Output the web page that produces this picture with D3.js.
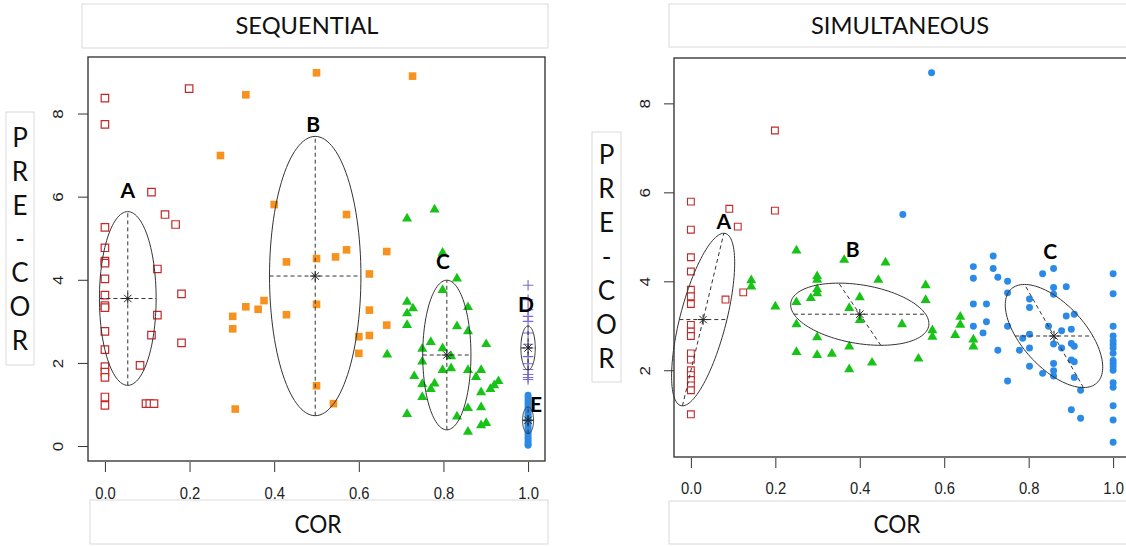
<!DOCTYPE html>
<html lang="en">
<head>
<meta charset="UTF-8">
<title>PRE-COR vs COR - Sequential / Simultaneous</title>
<script src="https://d3js.org/d3.v7.min.js"></script>
<style>
  body { margin: 0; background: #fff; }
  svg { display: block; }
  .label-box { fill: #fff; stroke: #d9d9d9; stroke-width: 1px; }
  .overlay-text { font-family: Lato, 'Open Sans', sans-serif; fill: #111; }
  .tick text { font-family: 'Liberation Sans', Arial, sans-serif; font-size: 17px; fill: #222; }
  .tick line { stroke: #333; stroke-width: 1px; }
  .frame { fill: none; stroke: #3a3a3a; stroke-width: 1.4px; }
  .ell { fill: none; stroke: #333; stroke-width: 1px; }
  .ell-axis { stroke: #333; stroke-width: 1px; stroke-dasharray: 4 3; }
  .ell-label { font-family: Lato, 'Open Sans', sans-serif; font-weight: 700; font-size: 21px; fill: #000; }
</style>
</head>
<body>
<div id="chart"></div>
<script>
// ---- data ----
const xTicks = [0, 0.2, 0.4, 0.6, 0.8, 1.0];
const seqYTicks = [0, 2, 4, 6, 8];
const simYTicks = [2, 4, 6, 8];

// SEQUENTIAL panel, [COR, PRE-COR]
const seqA = [[0,8.37],[0,7.74],[0.199,8.60],[0.110,6.11],[0.142,5.57],[0.167,5.33],[0,5.26],[0,4.77],
  [0,4.45],[0,4.40],[0.124,4.26],[0,4.02],[0.181,3.66],[0,3.63],[0,3.38],[0,3.33],[0.124,3.15],[0,2.76],
  [0.110,2.67],[0.181,2.48],[0,2.32],[0.083,1.94],[0,1.91],[0,1.78],[0,1.65],[0,1.18],[0,0.98],
  [0.097,1.02],[0.106,1.02],[0.116,1.02]];
const seqB = [[0.500,8.98],[0.333,8.45],[0.273,6.99],[0.400,5.81],[0.571,5.57],[0.571,4.72],[0.545,4.55],
  [0.500,4.51],[0.429,4.43],[0.376,3.50],[0.333,3.35],[0.362,3.29],[0.302,3.12],[0.429,3.16],[0.500,3.41],
  [0.302,2.82],[0.500,1.45],[0.540,1.02],[0.308,0.89],[0.727,8.90],[0.666,4.68],[0.625,4.14],[0.625,3.27],
  [0.666,2.91],[0.600,2.63],[0.625,2.66],[0.600,2.23]];
const seqC = [[0.779,5.69],[0.714,5.47],[0.798,4.65],[0.832,4.03],[0.798,3.75],[0.714,3.47],[0.728,3.31],
  [0.714,3.19],[0.858,3.34],[0.714,2.91],[0.832,2.88],[0.858,2.76],[0.770,2.50],[0.901,2.45],[0.667,2.20],
  [0.750,2.34],[0.798,2.35],[0.818,2.16],[0.750,2.03],[0.798,1.83],[0.818,1.87],[0.858,1.83],[0.889,1.83],
  [0.877,1.66],[0.731,1.68],[0.750,1.49],[0.779,1.50],[0.770,1.37],[0.750,1.18],[0.889,1.29],[0.911,1.37],
  [0.920,1.46],[0.930,1.56],[0.858,0.91],[0.889,0.93],[0.714,0.77],[0.832,0.71],[0.889,0.50],[0.901,0.55],
  [0.858,0.34]];
const seqD = [[1,3.87],[1,3.52],[1,3.28],[1,3.12],[1,3.00],[1,2.72],[1,2.45],[1,2.15],[1,1.98],[1,1.84],
  [1,1.72],[1,1.65],[1,1.60]];
const seqE = [[1,1.22],[1,1.16],[1,1.09],[1,1.03],[1,0.97],[1,0.92],[1,0.85],[1,0.79],[1,0.74],[1,0.68],
  [1,0.62],[1,0.57],[1,0.51],[1,0.45],[1,0.40],[1,0.33],[1,0.28],[1,0.21],[1,0.16],[1,0.10],[1,0.05],[1,0.02]];

// SIMULTANEOUS panel
const simA = [[0.199,7.39],[0,5.79],[0.091,5.63],[0.111,5.23],[0,5.16],[0.199,5.59],[0,4.54],[0,4.22],
  [0,3.81],[0,3.66],[0,3.49],[0.124,3.75],[0.082,3.59],[0,3.02],[0,2.87],[0,2.77],[0,2.38],[0,2.24],
  [0,2.00],[0,1.89],[0,1.78],[0,1.66],[0,1.55],[0,1.01]];
const simB = [[0.250,4.69],[0.363,4.48],[0.461,4.42],[0.143,4.02],[0.143,3.88],[0.299,4.11],[0.299,4.03],
  [0.444,4.03],[0.299,3.82],[0.299,3.73],[0.284,3.62],[0.250,3.53],[0.400,3.64],[0.375,3.40],[0.400,3.13],
  [0.200,3.43],[0.500,3.03],[0.250,3.03],[0.299,2.74],[0.375,2.53],[0.250,2.41],[0.299,2.34],[0.334,2.37],
  [0.429,2.17],[0.375,2.02],[0.556,3.91],[0.556,3.58],[0.572,2.90],[0.572,2.75],[0.539,2.26],[0.638,3.20],
  [0.638,3.02],[0.626,2.79],[0.669,2.69],[0.669,2.53]];
const simC = [[0.570,8.69],[0.502,5.50],[0.716,4.57],[0.669,4.33],[0.669,4.07],[0.716,4.29],[0.727,4.09],
  [0.750,4.00],[0.750,3.74],[0.669,3.49],[0.700,3.49],[0.700,3.09],[0.669,2.99],[0.692,2.84],[0.750,2.99],
  [0.727,2.45],[0.750,1.76],[0.833,4.17],[0.859,4.29],[0.859,3.86],[0.859,3.71],[0.889,3.88],[0.802,3.60],
  [0.802,3.41],[0.889,3.22],[0.908,3.26],[0.847,2.99],[0.878,2.89],[0.901,2.92],[0.802,2.81],[0.786,2.72],
  [0.859,2.59],[0.878,2.50],[0.901,2.60],[0.908,2.54],[0.778,2.45],[0.802,2.50],[0.901,2.23],[0.908,2.19],
  [0.802,2.09],[0.859,2.15],[0.859,1.99],[0.859,1.87],[0.833,1.93],[0.908,1.84],[0.923,1.55],[0.901,1.11],
  [0.923,0.92],[1,4.17],[1,3.72],[1,2.99],[1,2.77],[1,2.66],[1,2.58],[1,2.50],[1,2.38],[1,2.22],[1,2.15],
  [1,2.08],[1,2.00],[1,1.72],[1,1.62],[1,1.20],[1,0.88],[1,0.38]];

// class ellipses: centre (cx, cy), conjugate semi-axes u and v, label position (lx, ly)
const seqEllipses = [
  { name: "A", cx: 0.054, cy: 3.55, ux: 0, uy: 2.09, vx: 0.067, vy: 0, lx: 0.054, ly: 6.16 },
  { name: "B", cx: 0.497, cy: 4.09, ux: 0, uy: 3.36, vx: 0.108, vy: 0, lx: 0.492, ly: 7.74 },
  { name: "C", cx: 0.808, cy: 2.19, ux: 0, uy: 1.80, vx: 0.057, vy: 0, lx: 0.799, ly: 4.44 },
  { name: "D", cx: 1.0, cy: 2.36, ux: 0, uy: 0.53, vx: 0.017, vy: 0, lx: 0.995, ly: 3.40 },
  { name: "E", cx: 1.0, cy: 0.62, ux: 0, uy: 0.32, vx: 0.013, vy: 0, lx: 1.019, ly: 0.99 }
];
const simEllipses = [
  { name: "A", cx: 0.029, cy: 3.14, ux: 0.049, uy: 1.94, vx: 0.0564, vy: 0, lx: 0.078, ly: 5.35 },
  { name: "B", cx: 0.400, cy: 3.26, ux: -0.0498, uy: 0.699, vx: 0.156, vy: 0, lx: 0.383, ly: 4.71 },
  { name: "C", cx: 0.860, cy: 2.77, ux: -0.0697, uy: 1.159, vx: 0.092, vy: 0, lx: 0.851, ly: 4.67 }
];

// ---- marker styles ----
const asterisk = { draw(ctx, size) {
  const r = Math.sqrt(size) / 2, d = r * 0.7071;
  ctx.moveTo(-r, 0); ctx.lineTo(r, 0); ctx.moveTo(0, -r); ctx.lineTo(0, r);
  ctx.moveTo(-d, -d); ctx.lineTo(d, d); ctx.moveTo(-d, d); ctx.lineTo(d, -d);
} };
const plus = { draw(ctx, size) {
  const r = Math.sqrt(size) / 2;
  ctx.moveTo(-r, 0); ctx.lineTo(r, 0); ctx.moveTo(0, -r); ctx.lineTo(0, r);
} };

const styles = {
  openSquare: { type: d3.symbolSquare, size: 56, fill: "#fff", stroke: "#c62828", sw: 1.2 },
  openSquareSm: { type: d3.symbolSquare, size: 46, fill: "#fff", stroke: "#c62828", sw: 1.1 },
  orange: { type: d3.symbolSquare, size: 58, fill: "#f7921e", stroke: "none", sw: 0 },
  triangle: { type: d3.symbolTriangle, size: 44, fill: "#17c317", stroke: "none", sw: 0 },
  plus: { type: plus, size: 110, fill: "none", stroke: "#7768d6", sw: 1.1 },
  circle: { type: d3.symbolCircle, size: 38, fill: "#2b8ae6", stroke: "none", sw: 0 }
};

const W = 1126, H = 546;
const svg = d3.select("#chart").append("svg").attr("width", W).attr("height", H);

function labelBox(b) {
  svg.append("rect").attr("class", "label-box")
    .attr("x", b[0]).attr("y", b[1]).attr("width", b[2]).attr("height", b[3]);
}

function drawPanel(cfg) {
  const f = cfg.frame;
  const x = d3.scaleLinear().domain([-0.04, 1.04]).range([f.l, f.r]);
  const y = d3.scaleLinear().domain(cfg.yDomain).range([f.b, f.t]);

  // text boxes (title, x label, y label)
  labelBox(cfg.titleBox);
  svg.append("text").attr("class", "overlay-text")
    .attr("x", cfg.titleBox[0] + cfg.titleBox[2] / 2 + cfg.titleShift).attr("y", 26)
    .attr("dy", "0.35em").attr("text-anchor", "middle")
    .attr("font-size", 24).attr("textLength", cfg.titleWidth).attr("lengthAdjust", "spacingAndGlyphs")
    .text(cfg.title);

  labelBox(cfg.corBox);
  svg.append("text").attr("class", "overlay-text")
    .attr("x", cfg.corX).attr("y", 524).attr("dy", "0.35em").attr("text-anchor", "middle")
    .attr("font-size", 25).attr("textLength", 47).attr("lengthAdjust", "spacingAndGlyphs")
    .text("COR");

  labelBox(cfg.preBox);
  "PRE-COR".split("").forEach((ch, i) => {
    svg.append("text").attr("class", "overlay-text")
      .attr("x", cfg.preBox[0] + cfg.preBox[2] / 2)
      .attr("y", cfg.preStart + i * cfg.preStep)
      .attr("dy", "0.36em").attr("text-anchor", "middle").attr("font-size", 26)
      .text(ch);
  });

  // axes
  const gx = svg.append("g").attr("transform", `translate(0,${f.b + 1})`)
    .call(d3.axisBottom(x).tickValues(xTicks).tickFormat(d3.format(".1f")).tickSize(10));
  gx.select(".domain").remove();
  gx.selectAll(".tick text").attr("x", 0).attr("y", 0).attr("dy", "0.35em")
    .attr("transform", `translate(0,${cfg.xLabelOffset}) scale(0.87,1)`);

  const gy = svg.append("g").attr("transform", `translate(${f.l},0)`)
    .call(d3.axisLeft(y).tickValues(cfg.yTicks).tickFormat(d3.format("d")).tickSize(10));
  gy.select(".domain").remove();
  gy.selectAll(".tick text").attr("x", 0).attr("y", 0).attr("dy", "0.35em")
    .attr("text-anchor", "middle")
    .attr("transform", `translate(${-cfg.yLabelOffset},0) scale(0.87,1) rotate(-90)`);

  // frame
  svg.append("rect").attr("class", "frame")
    .attr("x", f.l).attr("y", f.t).attr("width", f.r - f.l).attr("height", f.b - f.t);

  // points
  const plot = svg.append("g");
  cfg.groups.forEach(g => {
    const s = styles[g.style];
    const sym = d3.symbol().type(s.type).size(s.size);
    plot.append("g").selectAll("path").data(g.data).join("path")
      .attr("transform", d => `translate(${x(d[0])},${y(d[1])})`)
      .attr("d", sym)
      .attr("fill", s.fill).attr("stroke", s.stroke).attr("stroke-width", s.sw);
  });

  // ellipses with dashed axes, centre star and class label
  const ts = d3.range(0, 361, 3).map(a => a * Math.PI / 180);
  cfg.ellipses.forEach(e => {
    const line = d3.line()
      .x(t => x(e.cx + e.ux * Math.cos(t) + e.vx * Math.sin(t)))
      .y(t => y(e.cy + e.uy * Math.cos(t) + e.vy * Math.sin(t)));
    plot.append("path").attr("class", "ell").attr("d", line(ts));
    [[e.ux, e.uy], [e.vx, e.vy]].forEach(([ax, ay]) => {
      plot.append("line").attr("class", "ell-axis")
        .attr("x1", x(e.cx - ax)).attr("y1", y(e.cy - ay))
        .attr("x2", x(e.cx + ax)).attr("y2", y(e.cy + ay));
    });
    plot.append("path")
      .attr("transform", `translate(${x(e.cx)},${y(e.cy)})`)
      .attr("d", d3.symbol().type(asterisk).size(110)())
      .attr("fill", "none").attr("stroke", "#222").attr("stroke-width", 1);
    plot.append("text").attr("class", "ell-label")
      .attr("x", x(e.lx)).attr("y", y(e.ly)).attr("dy", "0.36em").attr("text-anchor", "middle")
      .text(e.name);
  });
}

drawPanel({
  title: "SEQUENTIAL", titleBox: [82, 4, 466, 44], titleShift: -8, titleWidth: 143,
  corBox: [90, 500, 458, 44], corX: 318,
  preBox: [6, 112, 28, 253], preStart: 138, preStep: 33.7,
  frame: { l: 88, t: 57, r: 545, b: 461 }, yDomain: [-0.36, 9.36], yTicks: seqYTicks,
  xLabelOffset: 31, yLabelOffset: 30,
  groups: [
    { data: seqA, style: "openSquare" }, { data: seqB, style: "orange" },
    { data: seqC, style: "triangle" }, { data: seqD, style: "plus" }, { data: seqE, style: "circle" }
  ],
  ellipses: seqEllipses
});

drawPanel({
  title: "SIMULTANEOUS", titleBox: [669, 4, 470, 43], titleShift: -4, titleWidth: 178,
  corBox: [669, 501, 470, 43], corX: 897,
  preBox: [592, 132, 29, 250], preStart: 155, preStep: 34,
  frame: { l: 674, t: 58, r: 1130, b: 457 }, yDomain: [0.05, 9.02], yTicks: simYTicks,
  xLabelOffset: 30, yLabelOffset: 29,
  groups: [
    { data: simA, style: "openSquareSm" }, { data: simB, style: "triangle" }, { data: simC, style: "circle" }
  ],
  ellipses: simEllipses
});
</script>
</body>
</html>
